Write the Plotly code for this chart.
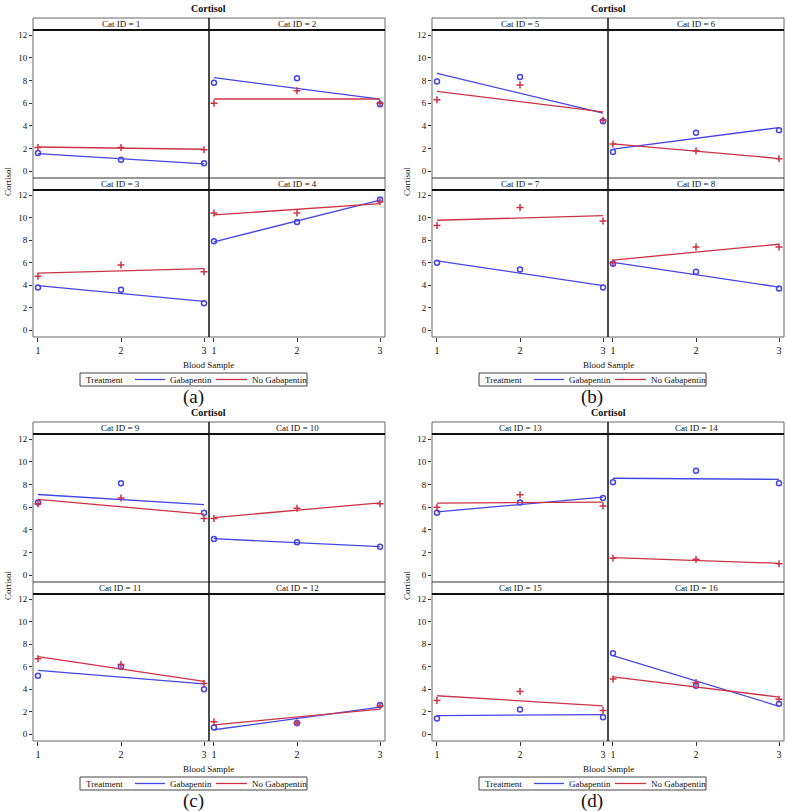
import numpy as np
import plotly.graph_objects as go

# ---------------- data ----------------
samples = [1, 2, 3]
cat_ids = list(range(1, 17))
gabapentin = [
    [1.6, 1.0, 0.7], [7.8, 8.2, 5.9], [3.8, 3.6, 2.4], [7.9, 9.6, 11.6],
    [7.9, 8.3, 4.4], [1.7, 3.4, 3.6], [6.0, 5.4, 3.8], [5.9, 5.2, 3.7],
    [6.4, 8.1, 5.5], [3.2, 2.9, 2.5], [5.2, 6.0, 4.0], [0.6, 1.0, 2.6],
    [5.5, 6.4, 6.8], [8.2, 9.2, 8.1], [1.4, 2.2, 1.5], [7.2, 4.3, 2.7],
]
no_gabapentin = [
    [2.1, 2.1, 1.9], [6.0, 7.1, 6.0], [4.8, 5.8, 5.2], [10.4, 10.4, 11.4],
    [6.3, 7.6, 4.5], [2.4, 1.8, 1.1], [9.3, 10.9, 9.7], [6.0, 7.4, 7.4],
    [6.3, 6.8, 5.0], [5.0, 5.9, 6.3], [6.7, 6.2, 4.5], [1.1, 1.0, 2.5],
    [6.0, 7.1, 6.1], [1.5, 1.4, 1.0], [3.0, 3.8, 2.1], [4.9, 4.6, 3.1],
]
panel_labels = ["(a)", "(b)", "(c)", "(d)"]
y_ticks = [0, 2, 4, 6, 8, 10, 12]
series_names = ["Gabapentin", "No Gabapentin"]

# ---------------- styling / geometry ----------------
W, H = 787, 811
BLUE = "#4646e6"
RED = "#cc3347"
SERIF = "Liberation Serif"


def px(x):
    return x / W


def py(y):
    return 1 - y / H


PANEL_OFF = [(0, 0), (399, 0), (0, 404), (399, 404)]
L, M, R = 33, 209, 385
ST1, P1T, P1B, P2T, P2B = 18, 30, 178, 190, 337

fig = go.Figure()
shapes = []
annotations = []
layout_axes = {}

for p in range(4):
    ox, oy = PANEL_OFF[p]
    for k in range(4):
        idx = p * 4 + k
        n = idx + 1
        col, row = k % 2, k // 2
        x0 = (L if col == 0 else M) + ox
        x1 = (M if col == 0 else R) + ox
        yt = (P1T if row == 0 else P2T) + oy
        yb = (P1B if row == 0 else P2B) + oy
        xname = "x" if n == 1 else f"x{n}"
        yname = "y" if n == 1 else f"y{n}"
        layout_axes["xaxis" if n == 1 else f"xaxis{n}"] = dict(
            domain=[px(x0), px(x1)], range=[0.94, 3.06], anchor=yname,
            tickvals=samples, showticklabels=(row == 1),
            ticks="outside" if row == 1 else "", ticklen=4, tickcolor="#333",
            showgrid=False, zeroline=False, showline=False,
            tickfont=dict(family=SERIF, size=10, color="#111"),
        )
        layout_axes["yaxis" if n == 1 else f"yaxis{n}"] = dict(
            domain=[py(yb), py(yt)], range=[-0.6, 12.45], anchor=xname,
            tickvals=y_ticks, showticklabels=(col == 0),
            ticks="outside" if col == 0 else "", ticklen=3, tickcolor="#333",
            showgrid=False, zeroline=False, showline=False,
            tickfont=dict(family=SERIF, size=9, color="#111"),
        )
        for vals, color, sym in [(gabapentin[idx], BLUE, "circle-open"),
                                 (no_gabapentin[idx], RED, "cross-thin-open")]:
            slope, icpt = np.polyfit(samples, vals, 1)
            fit = [icpt + slope * s for s in samples]
            fig.add_trace(go.Scatter(x=samples, y=fit, mode="lines",
                                     line=dict(color=color, width=1.3),
                                     xaxis=xname, yaxis=yname, showlegend=False,
                                     hoverinfo="skip"))
            fig.add_trace(go.Scatter(x=samples, y=vals, mode="markers",
                                     marker=dict(symbol=sym, size=5,
                                                 color=color, line=dict(color=color, width=1.5)),
                                     xaxis=xname, yaxis=yname, showlegend=False))
        # strip label
        sy0 = (ST1 if row == 0 else P1B) + oy
        sy1 = (P1T if row == 0 else P2T) + oy
        annotations.append(dict(
            x=px((x0 + x1) / 2), y=py((sy0 + sy1) / 2), xref="paper", yref="paper",
            text=f"Cat ID = {cat_ids[idx]}", showarrow=False,
            font=dict(family=SERIF, size=9, color="#111"),
            xanchor="center", yanchor="middle"))

    # frame shapes
    Lp, Mp, Rp = L + ox, M + ox, R + ox
    shapes.append(dict(type="rect", xref="paper", yref="paper",
                       x0=px(Lp), x1=px(Rp), y0=py(P2B + oy), y1=py(ST1 + oy),
                       line=dict(color="#666", width=1)))
    shapes.append(dict(type="line", xref="paper", yref="paper",
                       x0=px(Lp), x1=px(Rp), y0=py(P1T + oy), y1=py(P1T + oy),
                       line=dict(color="#111", width=2)))
    shapes.append(dict(type="line", xref="paper", yref="paper",
                       x0=px(Lp), x1=px(Rp), y0=py(P2T + oy), y1=py(P2T + oy),
                       line=dict(color="#111", width=2)))
    shapes.append(dict(type="line", xref="paper", yref="paper",
                       x0=px(Lp), x1=px(Rp), y0=py(P1B + oy), y1=py(P1B + oy),
                       line=dict(color="#333", width=1)))
    shapes.append(dict(type="line", xref="paper", yref="paper",
                       x0=px(Mp), x1=px(Mp), y0=py(P2B + oy), y1=py(ST1 + oy),
                       line=dict(color="#111", width=1.5)))

    # titles and labels
    annotations.append(dict(x=px((Lp + Rp) / 2), y=py(8 + oy), xref="paper", yref="paper",
                            text="<b>Cortisol</b>", showarrow=False,
                            font=dict(family=SERIF, size=10, color="#111"),
                            xanchor="center", yanchor="middle"))
    annotations.append(dict(x=px(8 + ox), y=py(181 + oy), xref="paper", yref="paper",
                            text="Cortisol", showarrow=False, textangle=-90,
                            font=dict(family=SERIF, size=9, color="#111"),
                            xanchor="center", yanchor="middle"))
    annotations.append(dict(x=px((Lp + Rp) / 2), y=py(365 + oy), xref="paper", yref="paper",
                            text="Blood Sample", showarrow=False,
                            font=dict(family=SERIF, size=9, color="#111"),
                            xanchor="center", yanchor="middle"))
    pc = 193 + ox
    annotations.append(dict(x=px(pc), y=py(397 + oy), xref="paper", yref="paper",
                            text=panel_labels[p], showarrow=False,
                            font=dict(family=SERIF, size=19, color="#111"),
                            xanchor="center", yanchor="middle"))
    # legend box
    bx0 = pc - 113
    ly0, ly1 = 373 + oy, 386 + oy
    lym = (ly0 + ly1) / 2
    shapes.append(dict(type="rect", xref="paper", yref="paper",
                       x0=px(bx0), x1=px(bx0 + 227), y0=py(ly1), y1=py(ly0),
                       line=dict(color="#444", width=1)))
    annotations.append(dict(x=px(bx0 + 4), y=py(lym), xref="paper", yref="paper",
                            text="Treatment", showarrow=False,
                            font=dict(family=SERIF, size=9, color="#111"),
                            xanchor="left", yanchor="middle"))
    for (s0, s1, tx, color, name) in [(55, 85, 88, BLUE, series_names[0]),
                                      (136, 167, 170, RED, series_names[1])]:
        shapes.append(dict(type="line", xref="paper", yref="paper",
                           x0=px(bx0 + s0), x1=px(bx0 + s1), y0=py(lym), y1=py(lym),
                           line=dict(color=color, width=1.3)))
        annotations.append(dict(x=px(bx0 + tx), y=py(lym), xref="paper", yref="paper",
                                text=name, showarrow=False,
                                font=dict(family=SERIF, size=9, color="#111"),
                                xanchor="left", yanchor="middle"))

fig.update_layout(
    width=W, height=H, autosize=False,
    margin=dict(l=0, r=0, t=0, b=0),
    paper_bgcolor="white", plot_bgcolor="white",
    showlegend=False, shapes=shapes, annotations=annotations,
    **layout_axes,
)

fig.write_html("out.html", config={"displayModeBar": False},
               post_script="document.body.style.margin='0';document.body.style.overflow='hidden';")
